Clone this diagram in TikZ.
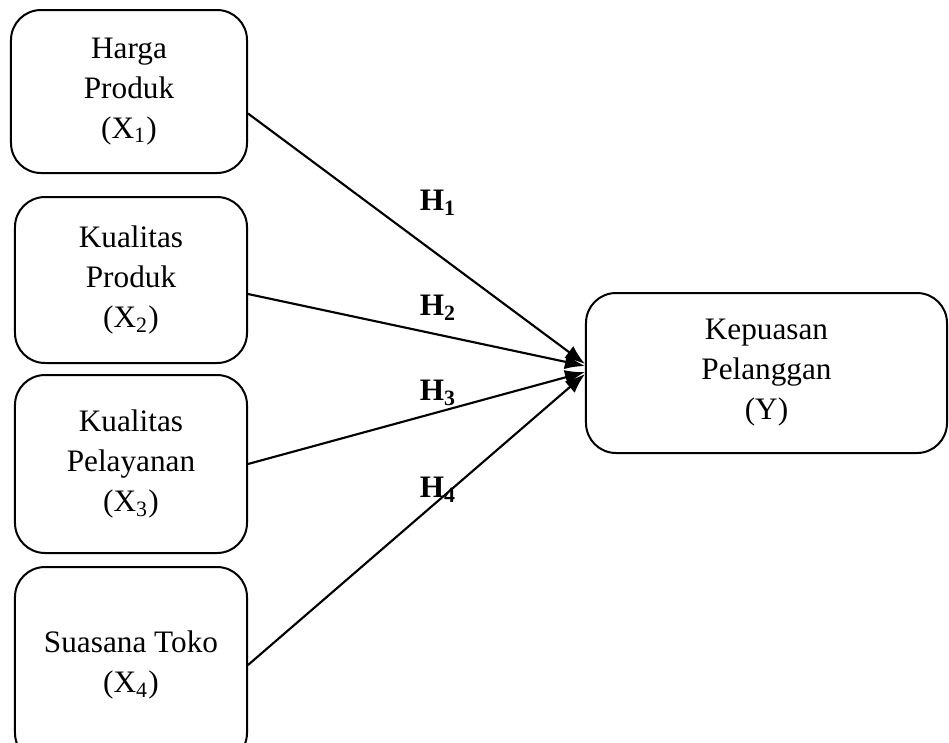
\documentclass[tikz,border=0pt]{standalone}
\usepackage{fontspec}
\setmainfont{Liberation Serif}
\usetikzlibrary{arrows.meta}
\begin{document}
\begin{tikzpicture}[x=0.4pt, y=-0.4pt,
	main/.style = {draw, rounded corners=12pt, line width=0.8pt, align=center, inner sep=0pt, font=\fontsize{12.5}{16}\selectfont},
	link/.style = {line width=0.85pt, -{Latex[length=8pt,width=6pt]}},
	hyp/.style = {font=\fontsize{12.5}{14}\selectfont\bfseries}]
			\useasboundingbox (0,0) rectangle (949,742);
			\node[main, minimum width=94.4pt, minimum height=65.2pt] (x1) at (129,91.5) {Harga\\Produk\\(X\textsubscript{1})};
			\node[main, minimum width=92.8pt, minimum height=66.4pt] (x2) at (131,280) {Kualitas\\Produk\\(X\textsubscript{2})};
			\node[main, minimum width=92.8pt, minimum height=71.2pt] (x3) at (131,464) {Kualitas\\Pelayanan\\(X\textsubscript{3})};
			\node[main, minimum width=92.8pt, minimum height=78.4pt] (x4) at (131,665) {Suasana Toko\\(X\textsubscript{4})};
			\node[main, minimum width=144.4pt, minimum height=64pt] (y) at (766.5,373) {Kepuasan\\Pelanggan\\(Y)};

			\node[hyp] (h1) at (438,203) {H\textsubscript{1}};
			\node[hyp] (h2) at (438,308) {H\textsubscript{2}};
			\node[hyp] (h3) at (438,393) {H\textsubscript{3}};
			\node[hyp] (h4) at (438,490) {H\textsubscript{4}};

			\draw[link] ([yshift=-8.8pt]x1.east) to ([yshift=3.6pt]y.west);
			\draw[link] ([yshift=-5.6pt]x2.east) to ([yshift=2.8pt]y.west);
			\draw[link] (x3.east) to ([yshift=0.4pt]y.west);
			\draw[link] (x4.east) to ([yshift=-0.4pt]y.west);
		\end{tikzpicture}
\end{document}
